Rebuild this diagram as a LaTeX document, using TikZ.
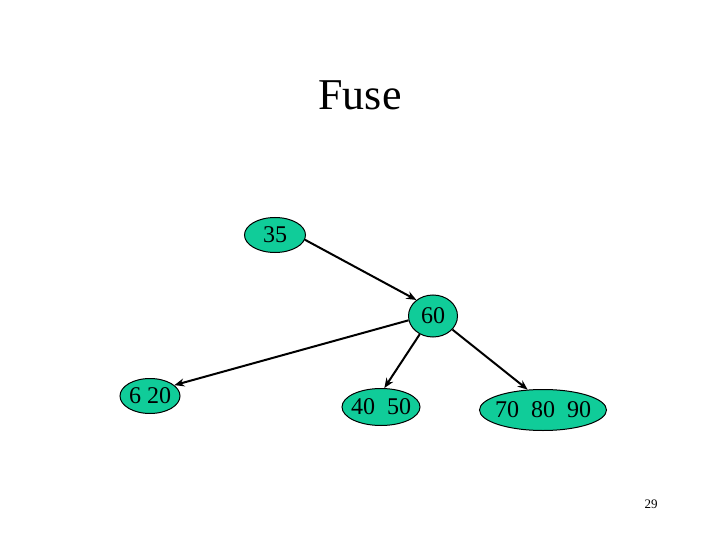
\documentclass[tikz,border=0pt]{standalone}
\usepackage{fontspec}
\setmainfont{Liberation Serif}
\usetikzlibrary{shapes.geometric,arrows.meta}
\definecolor{nodefill}{RGB}{16,204,153}
\newcommand{\zw}[1]{\makebox[0pt]{#1}}
\tikzset{
  keynode/.style={ellipse,draw=black,line width=1pt,fill=nodefill,inner sep=0pt,font=\fontsize{24}{26}\selectfont},
  link/.style={line width=2pt,-{Stealth[length=10pt,width=8pt]}}
}
\begin{document}
\begin{tikzpicture}[x=1pt,y=-1pt]
\useasboundingbox (0,0) rectangle (720,540);
\node[font=\fontsize{44}{48}\selectfont] (title) at (360,95) {Fuse};
\node[keynode,minimum width=61pt,minimum height=35pt] (n35) at (275,235) {\zw{35}};
\node[keynode,minimum width=49pt,minimum height=42pt] (n60) at (433,316) {\zw{60}};
\node[keynode,minimum width=60pt,minimum height=35pt] (n620) at (150,396) {\zw{6 20}};
\node[keynode,minimum width=78pt,minimum height=37pt] (n4050) at (381,407) {\zw{40\ \ 50}};
\node[keynode,minimum width=127pt,minimum height=41pt] (n708090) at (543,410) {\zw{70\ \ 80\ \ 90}};
\node[font=\fontsize{13}{15}\selectfont] (page) at (651,504) {29};
\draw[link] (n35.351) -- (n60.136);
\draw[link] (n60.190) -- (n620.24);
\draw[link] (n60.234) -- (n4050.80);
\draw[link] (n60.325) -- (n708090.127);
\end{tikzpicture}
\end{document}
